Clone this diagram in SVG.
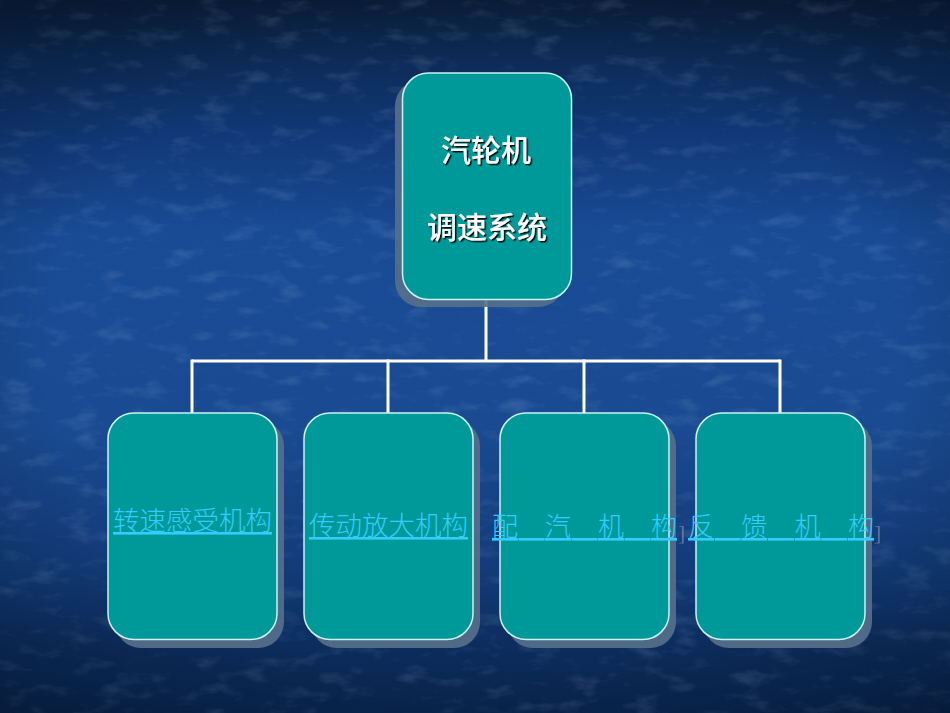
<svg xmlns="http://www.w3.org/2000/svg" width="950" height="713" viewBox="0 0 950 713">
  <defs>
    <linearGradient id="bg" x1="0" y1="0" x2="0" y2="1">
      <stop offset="0" stop-color="#0a1d38"/>
      <stop offset="0.08" stop-color="#0c2a55"/>
      <stop offset="0.2" stop-color="#113a7a"/>
      <stop offset="0.33" stop-color="#194b95"/>
      <stop offset="0.6" stop-color="#1a4a91"/>
      <stop offset="0.8" stop-color="#123b78"/>
      <stop offset="0.92" stop-color="#0b2b5a"/>
      <stop offset="1" stop-color="#09244c"/>
    </linearGradient>
    <radialGradient id="vig" cx="0.5" cy="0.5" r="0.75">
      <stop offset="0.6" stop-color="#000814" stop-opacity="0"/>
      <stop offset="1" stop-color="#000814" stop-opacity="0.35"/>
    </radialGradient>
    <filter id="tex" x="0" y="0" width="1" height="1">
      <feTurbulence type="fractalNoise" baseFrequency="0.03 0.07" numOctaves="4" seed="11" result="n"/>
      <feColorMatrix in="n" type="matrix" values="0 0 0 0 0.55  0 0 0 0 0.7  0 0 0 0 1  0 0 0 1.8 -0.95"/>
    </filter>
    <filter id="txtsh" x="-10%" y="-20%" width="130%" height="150%">
      <feDropShadow dx="1.5" dy="1.5" stdDeviation="0.3" flood-color="#000000" flood-opacity="0.9"/>
    </filter>
  </defs>
  <style>
    .box { fill: #009999; stroke: #c8f4f4; stroke-width: 1.5; }
    .shadow { fill: #56708c; opacity: 0.9; }
    .conn { stroke: #ffffff; stroke-width: 3; fill: none; }
    .title { font-family: "Noto Sans CJK SC", "Noto Sans", sans-serif; font-size: 30px; font-weight: 500; fill: #ffffff; text-anchor: middle; }
    .lbl { font-family: "Noto Sans CJK SC", "Noto Sans", sans-serif; font-size: 26px; font-weight: 300; fill: #33ccff; text-decoration: underline; }
    .br { font-family: "Liberation Serif", serif; font-size: 22px; fill: #8a9aae; opacity: 0.6; }
  </style>

  <rect x="0" y="0" width="950" height="713" fill="url(#bg)"/>
  <rect x="0" y="0" width="950" height="713" filter="url(#tex)" opacity="0.2"/>
  <rect x="0" y="0" width="950" height="713" fill="url(#vig)"/>

  <g id="connectors">
    <line class="conn" x1="486" y1="299" x2="486" y2="361"/>
    <line class="conn" x1="192" y1="361" x2="780" y2="361"/>
    <line class="conn" x1="192" y1="359.5" x2="192" y2="413"/>
    <line class="conn" x1="388" y1="359.5" x2="388" y2="413"/>
    <line class="conn" x1="584" y1="359.5" x2="584" y2="413"/>
    <line class="conn" x1="780" y1="359.5" x2="780" y2="413"/>
  </g>

  <g id="node-root">
    <rect class="shadow" x="395" y="80" width="169" height="227" rx="26"/>
    <rect class="box" x="402.5" y="73" width="169" height="226.5" rx="26"/>
    <text class="title" x="486" y="161" filter="url(#txtsh)">汽轮机</text>
    <text class="title" x="487" y="238" filter="url(#txtsh)">调速系统</text>
  </g>

  <g id="node-speed">
    <rect class="shadow" x="115" y="420" width="169" height="228" rx="26"/>
    <rect class="box" x="108" y="413" width="169" height="226.5" rx="26"/>
    <text class="lbl" x="113" y="530" textLength="159" lengthAdjust="spacingAndGlyphs">转速感受机构</text>
  </g>

  <g id="node-amp">
    <rect class="shadow" x="311" y="420" width="169" height="228" rx="26"/>
    <rect class="box" x="304" y="413" width="169" height="226.5" rx="26"/>
    <text class="lbl" x="309" y="535" textLength="159" lengthAdjust="spacingAndGlyphs">传动放大机构</text>
  </g>

  <g id="node-steam">
    <rect class="shadow" x="507" y="420" width="169" height="228" rx="26"/>
    <rect class="box" x="500" y="413" width="169" height="226.5" rx="26"/>
    <text class="lbl" x="492" y="536" textLength="185" lengthAdjust="spacing">配　汽　机　构</text>
    <text class="br" x="678" y="540">]</text>
  </g>

  <g id="node-feedback">
    <rect class="shadow" x="703" y="420" width="169" height="228" rx="26"/>
    <rect class="box" x="696" y="413" width="169" height="226.5" rx="26"/>
    <text class="lbl" x="688" y="536" textLength="186" lengthAdjust="spacing">反　馈　机　构</text>
    <text class="br" x="874" y="540">]</text>
  </g>
</svg>
